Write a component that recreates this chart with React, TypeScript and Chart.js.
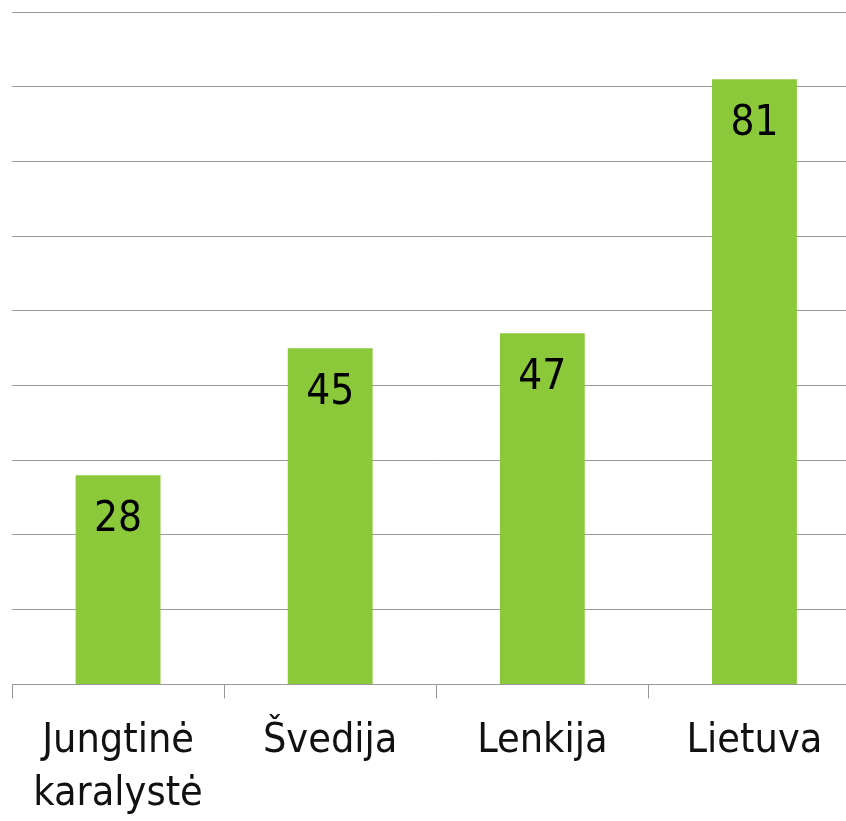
import React, { useEffect, useRef } from "react";
import { Chart, registerables } from "chart.js";

Chart.register(...registerables);

const categories: (string | string[])[] = [["Jungtinė", "karalystė"], "Švedija", "Lenkija", "Lietuva"];
const values: number[] = [28, 45, 47, 81];
const yMin = 0;
const yMax = 90;
const yStep = 10;

const FONT = "'DejaVu Sans Condensed', 'DejaVu Sans', sans-serif";

const dataLabelPlugin = {
  id: "dataLabelsInside",
  afterDatasetsDraw(chart: any) {
    const { ctx } = chart;
    const meta = chart.getDatasetMeta(0);
    ctx.save();
    ctx.font = `42px ${FONT}`;
    ctx.fillStyle = "#000";
    ctx.textAlign = "center";
    ctx.textBaseline = "alphabetic";
    meta.data.forEach((bar: any, i: number) => {
      ctx.fillText(String(values[i]), bar.x, bar.y + 56);
    });
    ctx.restore();
  },
};

export default function App() {
  const ref = useRef<HTMLCanvasElement | null>(null);
  useEffect(() => {
    if (!ref.current) return;
    const chart = new Chart(ref.current, {
      type: "bar",
      data: {
        labels: categories,
        datasets: [
          {
            data: values,
            backgroundColor: "#8cc93a",
            borderWidth: 0,
            categoryPercentage: 0.8,
            barPercentage: 0.5,
          },
        ],
      },
      options: {
        responsive: false,
        animation: false,
        layout: { padding: { left: 12, top: 12, right: 9.5, bottom: 10 } },
        plugins: { legend: { display: false }, tooltip: { enabled: false } },
        scales: {
          x: {
            grid: {
              display: true,
              drawOnChartArea: false,
              drawTicks: true,
              tickLength: 14,
              offset: true,
              color: "#999",
              lineWidth: 1,
            },
            border: { display: true, color: "#999", width: 1 },
            ticks: {
              color: "#111",
              font: { family: FONT, size: 41, lineHeight: 1.3 },
              padding: 16,
              maxRotation: 0,
              minRotation: 0,
              autoSkip: false,
            },
          },
          y: {
            min: yMin,
            max: yMax,
            grid: { color: "#999", lineWidth: 1, drawTicks: false },
            border: { display: false },
            ticks: { display: false, stepSize: yStep },
          },
        },
      },
      plugins: [dataLabelPlugin],
    });
    return () => chart.destroy();
  }, []);
  return (
    <div style={{ position: "fixed", left: 0, top: 0, width: 846, height: 821, overflow: "hidden", background: "#fff" }}>
      <canvas ref={ref} width={870} height={847} style={{ display: "block" }} />
    </div>
  );
}
